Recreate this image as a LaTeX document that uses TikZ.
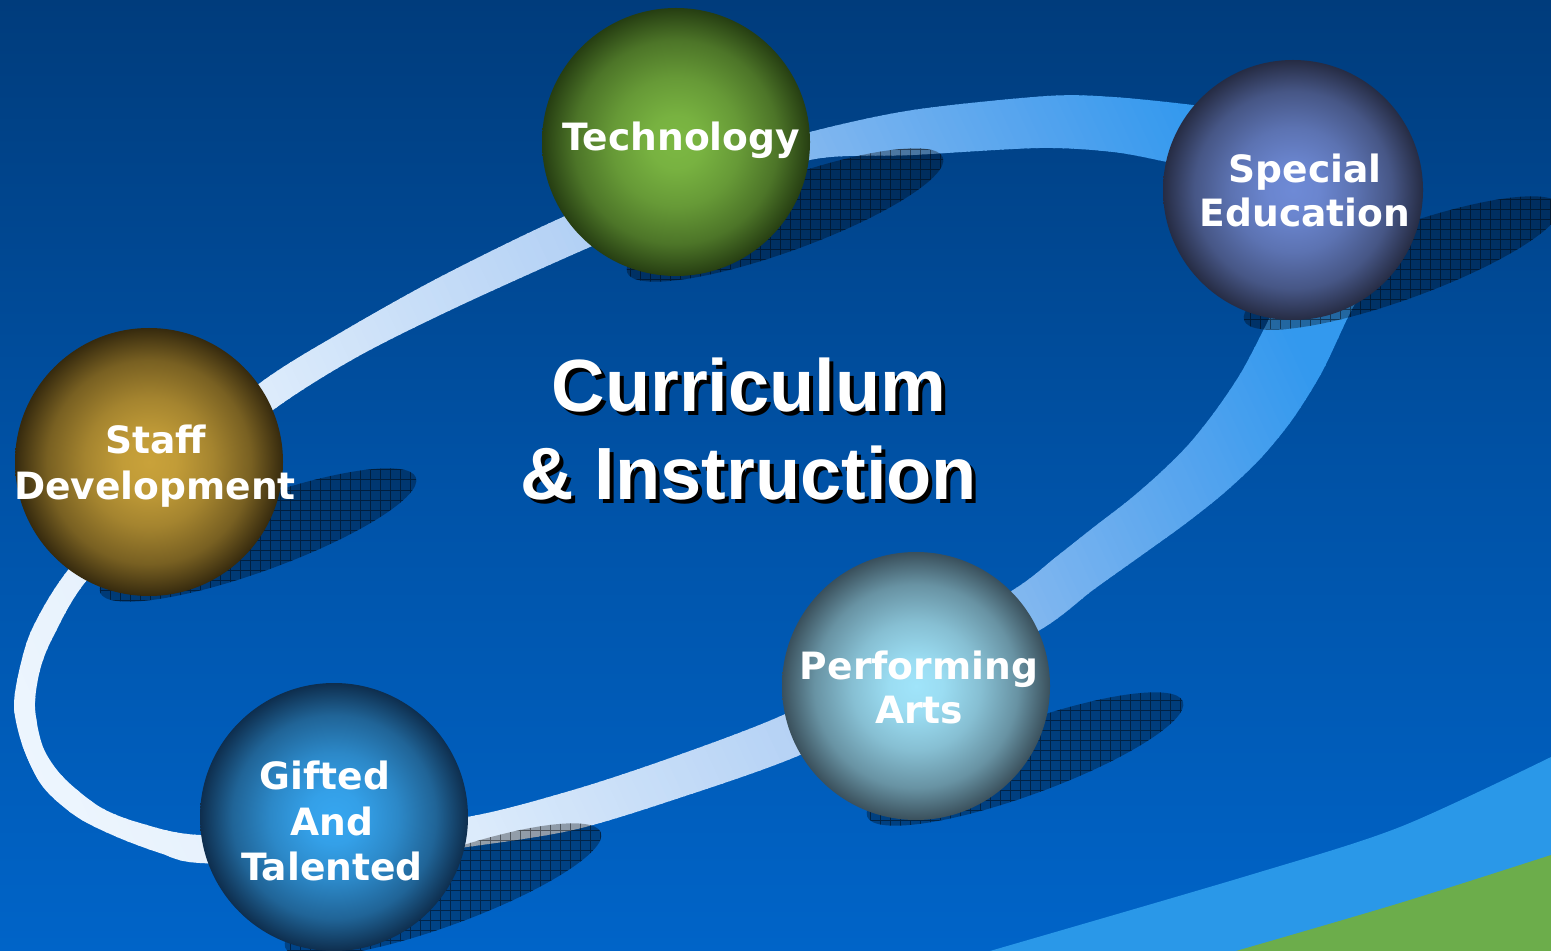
\documentclass[tikz,border=0pt]{standalone}
\usepackage{fontspec}
\newfontfamily\labfont{DejaVu Sans}
\newfontfamily\titlefont{Liberation Sans}
\definecolor{bgtop}{HTML}{003C7C}
\definecolor{bgmid}{HTML}{0052A6}
\definecolor{bgbot}{HTML}{0064C8}
\definecolor{bandblue}{HTML}{2A98E8}
\definecolor{bandgreen}{HTML}{6CAD4B}
\definecolor{ringA}{HTML}{EEF6FE}
\definecolor{ringB}{HTML}{DCEBFB}
\definecolor{ringC}{HTML}{B5D2F5}
\definecolor{ringD}{HTML}{7FB6EF}
\definecolor{ringE}{HTML}{52A3EE}
\definecolor{ringF}{HTML}{3399EE}
\definecolor{techA}{HTML}{7CB843}
\definecolor{techB}{HTML}{263E12}
\definecolor{specA}{HTML}{6E8AD6}
\definecolor{specB}{HTML}{262C44}
\definecolor{stafA}{HTML}{C9A23A}
\definecolor{stafB}{HTML}{362A0E}
\definecolor{giftA}{HTML}{36A6F0}
\definecolor{giftB}{HTML}{0E2E4E}
\definecolor{perfA}{HTML}{A0E4FA}
\definecolor{perfB}{HTML}{3A505C}
\newcommand\declball[3]{%
  \pgfdeclareradialshading{#1}{\pgfpoint{0bp}{0bp}}{color(0bp)=(#2); color(5bp)=(#2!95!#3); color(12bp)=(#2!75!#3); color(19bp)=(#2!45!#3); color(25bp)=(#3); color(50bp)=(#3)}}
\declball{techshade}{techA}{techB}
\declball{specshade}{specA}{specB}
\declball{stafshade}{stafA}{stafB}
\declball{giftshade}{giftA}{giftB}
\declball{perfshade}{perfA}{perfB}
\newcommand\ringseg[4]{%
  \pgfmathtruncatemacro\nseg{max(1,round(((#2)-(#1))/8))}%
  \pgfmathsetmacro\dseg{((#2)-(#1))/\nseg}%
  \foreach \k in {1,...,\nseg}{%
    \pgfmathsetmacro\rsa{(#1)+(\k-1)*\dseg}%
    \pgfmathsetmacro\rsb{(#1)+\k*\dseg+1.5}%
    \pgfmathtruncatemacro\pp{100*(\k-0.5)/\nseg}%
    \fill[fill=#4!\pp!#3, rotate around={25:(0,0)}] (\rsa,0) rectangle (\rsb,1400);
  }}
\newcommand\sphereshadow[2]{%
  \begin{scope}
    \clip[rotate around={20:(#1+109,#2+73)}] (#1+109,#2+73) ellipse [x radius=168, y radius=36];
    \fill[black, opacity=0.32] (#1-100,#2-150) rectangle (#1+320,#2+300);
    \draw[black, opacity=0.45, line width=0.5pt, step=5pt] (#1-100,#2+300) grid (#1+320,#2-150);
  \end{scope}}
\newcommand\shadowtext[1]{\makebox[0pt][l]{\hspace{2pt}\raisebox{-2pt}[0pt][0pt]{\textcolor{black}{#1}}}#1}
\tikzset{
  ball/.style={circle, minimum size=134pt, inner sep=0pt, draw=none, shade},
  lab/.style={text=white, font=\labfont\bfseries\fontsize{18.8pt}{22pt}\selectfont, inner sep=0pt, anchor=base},
  ttl/.style={text=white, font=\titlefont\bfseries\fontsize{37pt}{44pt}\selectfont, inner sep=0pt, anchor=base}
}
\begin{document}
\begin{tikzpicture}[x=0.5pt,y=-0.5pt]
\useasboundingbox (0,0) rectangle (1551,951);
\clip (0,0) rectangle (1551,951);
% background
\shade[top color=bgtop, bottom color=bgbot, middle color=bgmid] (0,0) rectangle (1551,951);
% bottom right bands
\fill[bandblue] plot[smooth] coordinates {(990,951) (1250,875) (1400,827) (1551,757)} -- (1551,951) -- cycle;
\fill[bandgreen] plot[smooth] coordinates {(1236,951) (1400,903) (1551,855)} -- (1551,951) -- cycle;
% ring
\begin{scope}[even odd rule]
\clip
 plot[smooth cycle] coordinates {(14,707) (20,667) (33,627) (68,570) (155,470) (260,383) (340,333) (440,277) (563,217) (686,168) (810,132) (913,110) (1047,96) (1113,97) (1193,105) (1290,118) (1370,150) (1395,205) (1378,262) (1350,313) (1322,372) (1292,420) (1260,459) (1224,493) (1185,524) (1142,555) (1093,590) (1040,630) (920,693) (800,755) (673,800) (573,830) (467,847) (333,863) (200,863) (160,853) (117,837) (77,817) (43,787) (23,747)}
 plot[smooth cycle] coordinates {(35,707) (40,670) (53,637) (87,580) (175,490) (273,410) (357,357) (457,307) (590,247) (700,201) (810,160) (913,155) (1040,148) (1113,152) (1167,162) (1225,175) (1268,205) (1288,250) (1282,292) (1267,323) (1242,371) (1216,410) (1189,444) (1160,473) (1129,500) (1094,527) (1056,557) (1013,590) (900,655) (783,715) (673,757) (573,790) (467,817) (333,831) (200,835) (140,823) (100,807) (63,777) (43,747)};
\ringseg{-320}{78}{ringA}{ringB}
\ringseg{78}{410}{ringB}{ringC}
\ringseg{410}{680}{ringC}{ringD}
\ringseg{680}{892}{ringD}{ringE}
\ringseg{892}{1030}{ringE}{ringF}
\ringseg{1030}{1260}{ringF}{ringF}
\end{scope}
% shadows
\sphereshadow{676}{142}
\sphereshadow{1293}{190}
\sphereshadow{149}{462}
\sphereshadow{334}{817}
\sphereshadow{916}{686}
% spheres
\node[ball, shading=techshade] (sTech) at (676,142) {};
\node[ball, shading=specshade, minimum size=130pt] (sSpec) at (1293,190) {};
\node[ball, shading=stafshade] (sStaff) at (149,462) {};
\node[ball, shading=giftshade] (sGift) at (334,817) {};
\node[ball, shading=perfshade] (sPerf) at (916,686) {};
% labels
\node[lab] (tech) at (681,151) {Technology};
\node[lab] (spec1) at (1305,183) {Special};
\node[lab] (spec2) at (1305,227) {Education};
\node[lab] (staff1) at (156,454) {Staff};
\node[lab] (staff2) at (155,499) {Development};
\node[lab] (gift1) at (325,789) {Gifted};
\node[lab] (gift2) at (332,835) {And};
\node[lab] (gift3) at (332,880) {Talented};
\node[lab] (perf1) at (919,679) {Performing};
\node[lab] (perf2) at (919,723) {Arts};
% title
\node[ttl] (title1) at (749,412) {\shadowtext{Curriculum}};
\node[ttl] (title2) at (749,499) {\shadowtext{\& Instruction}};
\end{tikzpicture}
\end{document}
